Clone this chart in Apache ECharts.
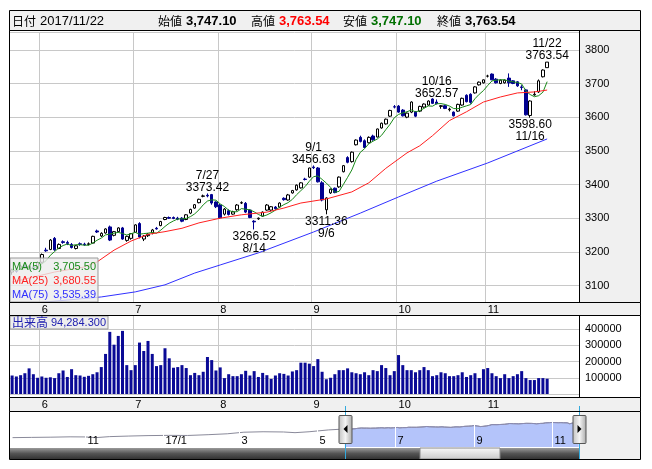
<!DOCTYPE html>
<html><head><meta charset="utf-8">
<script src="https://cdn.jsdelivr.net/npm/echarts@6/dist/echarts.min.js"></script>
<style>html,body{margin:0;padding:0;background:#fff}#c{width:652px;height:469px}</style>
</head><body><div id="c"></div>
<script>
const dates = [
'2017-05-23','2017-05-24','2017-05-25','2017-05-26','2017-05-29','2017-05-30','2017-05-31',
'2017-06-01','2017-06-02','2017-06-05','2017-06-06','2017-06-07','2017-06-08','2017-06-09','2017-06-12','2017-06-13','2017-06-14','2017-06-15','2017-06-16','2017-06-19','2017-06-20','2017-06-21','2017-06-22','2017-06-23','2017-06-26','2017-06-27','2017-06-28','2017-06-29','2017-06-30',
'2017-07-03','2017-07-04','2017-07-05','2017-07-06','2017-07-07','2017-07-10','2017-07-11','2017-07-12','2017-07-13','2017-07-14','2017-07-18','2017-07-19','2017-07-20','2017-07-21','2017-07-24','2017-07-25','2017-07-26','2017-07-27','2017-07-28','2017-07-31',
'2017-08-01','2017-08-02','2017-08-03','2017-08-04','2017-08-07','2017-08-08','2017-08-09','2017-08-10','2017-08-14','2017-08-15','2017-08-16','2017-08-17','2017-08-18','2017-08-21','2017-08-22','2017-08-23','2017-08-24','2017-08-25','2017-08-28','2017-08-29','2017-08-30','2017-08-31',
'2017-09-01','2017-09-04','2017-09-05','2017-09-06','2017-09-07','2017-09-08','2017-09-11','2017-09-12','2017-09-13','2017-09-14','2017-09-15','2017-09-19','2017-09-20','2017-09-21','2017-09-22','2017-09-25','2017-09-26','2017-09-27','2017-09-28','2017-09-29',
'2017-10-02','2017-10-03','2017-10-04','2017-10-05','2017-10-06','2017-10-10','2017-10-11','2017-10-12','2017-10-13','2017-10-16','2017-10-17','2017-10-18','2017-10-19','2017-10-20','2017-10-23','2017-10-24','2017-10-25','2017-10-26','2017-10-27','2017-10-30','2017-10-31',
'2017-11-01','2017-11-02','2017-11-06','2017-11-07','2017-11-08','2017-11-09','2017-11-10','2017-11-13','2017-11-14','2017-11-15','2017-11-16','2017-11-17','2017-11-20','2017-11-21','2017-11-22'];

const openP = [3140,3146,3150,3158,3153,3155,3150,
3169,3205,3207,3240,3210,3230,3228,3222,3210,3224,3223,3222,3226,3262,3247,3256,3274,3249,3260,3271,3234,3240,
3258,3284,3238,3248,3256,3270,3278,3296,3302,3302,3300,3300,3296,3315,3330,3346,3365,3368,3370,3348,
3339,3312,3322,3312,3325,3345,3344,3324,3291,3298,3306,3324,3324,3333,3333,3359,3354,3375,3384,3390,3416,3422,
3452,3449,3405,3325,3375,3389,3393,3438,3480,3468,3518,3540,3530,3524,3544,3541,3568,3580,3603,3631,
3633,3621,3600,3615,3615,3618,3630,3636,3654,3645,3632,3634,3622,3615,3618,3636,3665,3668,3672,3696,3702,
3722,3728,3713,3700,3702,3716,3708,3705,3690,3681,3605,3666,3675,3720,3747.10];
const highP = [3150,3152,3162,3163,3160,3158,3172,
3195,3212,3238,3244,3225,3234,3233,3226,3220,3228,3227,3228,3248,3266,3258,3270,3278,3262,3273,3274,3248,3256,
3282,3288,3250,3256,3268,3274,3292,3304,3305,3305,3304,3303,3312,3328,3342,3358,3370,3373.42,3372,3350,
3342,3330,3326,3322,3342,3350,3348,3326,3294,3302,3320,3342,3336,3336,3347,3362,3372,3384,3400,3407,3420,3450,
3456.63,3452,3410,3362,3388,3391,3424,3458,3484,3498,3534,3545,3534,3543,3548,3566,3584,3596,3622,3636,
3636,3624,3614,3647,3618,3634,3641,3650,3656,3652.57,3636,3636,3628,3617,3640,3658,3668,3671,3692,3706,3712,
3726,3730,3716,3712,3712,3730,3710,3707,3695,3684,3650,3677,3712,3742,3763.54];
const lowP = [3132,3138,3148,3150,3148,3145,3148,
3165,3200,3205,3203,3208,3224,3220,3210,3207,3218,3218,3219,3225,3256,3244,3254,3232,3246,3258,3236,3230,3236,
3256,3240,3232,3244,3252,3266,3276,3294,3298,3297,3294,3288,3294,3312,3328,3344,3362,3362,3340,3330,
3298,3308,3308,3310,3322,3342,3315,3300,3266.52,3295,3304,3322,3320,3325,3331,3352,3352,3373,3382,3388,3412,3420,
3446,3406,3350,3311.36,3372,3374,3390,3436,3463,3465,3516,3525,3508,3522,3530,3540,3566,3578,3601,3626,
3613,3602,3597,3612,3600,3615,3628,3634,3639,3638,3625,3624,3617,3602,3616,3634,3644,3640,3670,3694,3700,
3718,3710,3700,3698,3700,3690,3698,3690,3680,3605,3598.60,3664,3672,3718,3747.10];
const closeP = [3146,3142,3158,3153,3156,3150,3168,
3192,3203,3235,3206,3222,3228,3225,3213,3218,3222,3221,3224,3246,3259,3255,3268,3235,3260,3271,3238,3246,3254,
3280,3244,3247,3252,3265,3268,3290,3302,3300,3299,3297,3291,3310,3326,3340,3356,3366,3366,3345,3334,
3301,3327,3311,3319,3339,3346,3318,3302,3289,3300,3318,3339,3334,3328,3345,3355,3369,3382,3398,3405,3415,3449,
3450,3408,3354,3360,3386,3376,3422,3456,3466,3496,3532,3528,3510,3540,3533,3565,3582,3594,3620,3630,
3615,3604,3612,3645,3603,3632,3639,3648,3641,3640,3634,3626,3624,3604,3638,3656,3646,3644,3690,3704,3711,
3722,3711,3702,3710,3710,3702,3700,3693,3688,3607,3648,3668,3708,3740,3763.54];
const volume = [114000,108000,116000,128000,158000,122000,100000,
108000,100000,103000,98000,128000,145000,105000,153000,116000,114000,106000,112000,122000,134000,166000,247000,383000,304000,358000,389000,178000,147000,
178000,317000,265000,327000,247000,172000,178000,282000,220000,162000,166000,178000,160000,116000,130000,116000,137000,228000,209000,145000,
164000,98000,122000,110000,110000,122000,143000,114000,141000,105000,130000,116000,93000,114000,128000,124000,114000,139000,147000,193000,193000,187000,
172000,215000,137000,91000,100000,122000,147000,147000,158000,134000,128000,122000,134000,116000,147000,141000,178000,160000,116000,141000,
240000,178000,147000,147000,134000,147000,166000,147000,110000,116000,134000,128000,110000,110000,116000,134000,105000,116000,128000,98000,153000,
160000,128000,110000,98000,122000,98000,110000,122000,141000,98000,86000,86000,98000,98000,94284.3];

const ma25Dates = ['2017-05-23','2017-06-06','2017-06-15','2017-06-20','2017-06-26','2017-06-30','2017-07-06','2017-07-12','2017-07-19','2017-07-25','2017-08-01','2017-08-08','2017-08-17','2017-08-23','2017-08-29','2017-09-06','2017-09-14','2017-09-21','2017-09-27','2017-10-04','2017-10-10','2017-10-13','2017-10-19','2017-10-25','2017-10-31','2017-11-07','2017-11-13','2017-11-17','2017-11-22'];
const ma25Vals = [3110,3140,3155,3170,3205,3232,3252,3260,3270,3286,3300,3310,3318,3330,3345,3357,3378,3405,3448,3494,3515,3545,3590,3616,3645,3660,3672,3675,3680.55];
const ma75Dates = ['2017-05-23','2017-06-21','2017-07-03','2017-07-12','2017-07-24','2017-08-01','2017-08-15','2017-09-01','2017-09-19','2017-10-02','2017-10-16','2017-11-01','2017-11-22'];
const ma75Vals = [3042,3066,3081,3102,3137,3161,3197,3259,3315,3363,3410,3464,3535.39];
const maLegend = [['MA(5)',3705.50,'#1a8a1a'],['MA(25)',3680.55,'#ff2020'],['MA(75)',3535.39,'#3030ff']];

const navDates = ['2016-09-05','2016-09-20','2016-10-05','2016-10-20','2016-11-01','2016-11-09','2016-11-20','2016-12-05','2016-12-20','2017-01-05','2017-01-20','2017-02-05','2017-02-20','2017-03-05','2017-03-20','2017-04-05','2017-04-14','2017-04-25','2017-05-10','2017-05-22'];
const navVals = [2380,2400,2420,2450,2440,2380,2470,2520,2560,2580,2570,2640,2720,2860,2900,2880,2820,2900,3060,3140];

const annot = [['2017-07-27','high'],['2017-08-14','low'],['2017-09-01','high'],['2017-09-06','low'],['2017-10-16','high'],['2017-11-16','low'],['2017-11-22','high']];

const FONT = "'Liberation Sans',Arial,sans-serif";
const FONTJ = "'Noto Sans CJK JP',sans-serif";
const N = dates.length;
const cats = dates.concat(['p1','p2','p3','p4','p5','p6','p7']);
const isMonthStart = i => i > 0 && i < N && dates[i].slice(5,7) !== dates[i-1].slice(5,7);
const md = d => (+d.slice(5,7)) + '/' + (+d.slice(8,10));
const fmt = v => v.toLocaleString('en-US',{minimumFractionDigits:2,maximumFractionDigits:2});

const candle = dates.map((d,i)=>[openP[i], closeP[i], lowP[i], highP[i]]);
const ma5 = closeP.map((c,i)=>{ const s = closeP.slice(Math.max(0,i-4), i+1); return s.reduce((a,b)=>a+b,0)/s.length; });
const fromSamples = (ds, vs) => dates.map(d => { const k = ds.indexOf(d); return k >= 0 ? vs[k] : null; });
const ma25 = fromSamples(ma25Dates, ma25Vals);
const ma75 = fromSamples(ma75Dates, ma75Vals);

const markData = annot.map(([d,kind]) => {
  const i = dates.indexOf(d);
  const v = kind === 'high' ? highP[i] : lowP[i];
  return {coord:[d, v], value:v, label:{position: kind==='high'?'top':'bottom', distance: kind==='high'?0:1,
    formatter: kind==='high' ? md(d)+'\n'+v.toFixed(2) : v.toFixed(2)+'\n'+md(d)}};
});

const navAll = navDates.map((d,i)=>[d, navVals[i]]).concat(dates.map((d,i)=>[d, closeP[i]]));
const navSel = dates.map((d,i)=>[d, closeP[i]]);

const chart = echarts.init(document.getElementById('c'));
const gridLine = '#c8c8c8';
const lab = {color:'#000', fontSize:11, fontFamily:FONT};

chart.setOption({
  animation:false,
  backgroundColor:'#fff',
  grid:[
    {left:10, top:32, width:569, height:270},
    {left:10, top:315, width:569, height:79},
    {left:10, top:412, width:570, height:35}
  ],
  xAxis:[
    {type:'category', gridIndex:0, data:cats, boundaryGap:true, axisLine:{show:false}, axisTick:{show:false},
     axisLabel:Object.assign({interval:(i)=>isMonthStart(i), formatter:v=>String(+v.slice(5,7)), align:'left', margin:2}, lab),
     splitLine:{show:true, interval:(i)=>isMonthStart(i), lineStyle:{color:gridLine}}},
    {type:'category', gridIndex:1, data:cats, boundaryGap:true, axisLine:{show:false}, axisTick:{show:false},
     axisLabel:Object.assign({interval:(i)=>isMonthStart(i), formatter:v=>String(+v.slice(5,7)), align:'left', margin:5}, lab),
     splitLine:{show:true, interval:(i)=>isMonthStart(i), lineStyle:{color:gridLine}}},
    {type:'time', gridIndex:2, min:'2016-09-03', max:'2017-11-23', show:false}
  ],
  yAxis:[
    {type:'value', gridIndex:0, position:'right', min:3051, max:3853, splitNumber:8, axisLine:{show:false}, axisTick:{show:false},
     axisLabel:Object.assign({showMinLabel:false, showMaxLabel:false, margin:6, formatter:v=>String(v)}, lab), splitLine:{lineStyle:{color:gridLine}}},
    {type:'value', gridIndex:1, position:'right', min:0, max:487000, splitNumber:5, axisLine:{show:false}, axisTick:{show:false},
     axisLabel:Object.assign({showMinLabel:false, showMaxLabel:false, margin:6, formatter:v=>String(v)}, lab), splitLine:{lineStyle:{color:gridLine}}},
    {type:'value', gridIndex:2, min:1550, max:4650, show:false}
  ],
  series:[
    {type:'candlestick', xAxisIndex:0, yAxisIndex:0, data:candle, barWidth:3,
     itemStyle:{color:'#fff', color0:'#000090', borderColor:'#000', borderColor0:'#000090', borderWidth:1},
     markPoint:{symbol:'circle', symbolSize:0, silent:true, animation:false,
       label:{show:true, color:'#000', fontSize:12, fontFamily:FONT, lineHeight:12}, data:markData}},
    {type:'line', xAxisIndex:0, yAxisIndex:0, data:ma5, symbol:'none', lineStyle:{color:'#1a8a1a', width:1}},
    {type:'line', xAxisIndex:0, yAxisIndex:0, data:ma25, symbol:'none', connectNulls:true, lineStyle:{color:'#ff2020', width:1}},
    {type:'line', xAxisIndex:0, yAxisIndex:0, data:ma75, symbol:'none', connectNulls:true, lineStyle:{color:'#3030ff', width:1}},
    {type:'bar', xAxisIndex:1, yAxisIndex:1, data:volume, barWidth:3, itemStyle:{color:'#0a0a96'}},
    {type:'line', xAxisIndex:2, yAxisIndex:2, data:navAll, symbol:'none', lineStyle:{color:'#8a8a9a', width:1}},
    {type:'line', xAxisIndex:2, yAxisIndex:2, data:navSel, symbol:'none', lineStyle:{color:'#8a8ab0', width:1},
     areaStyle:{color:'#b4c4fa', opacity:1}}
  ]
});

const px = (d) => chart.convertToPixel({xAxisIndex:2}, +echarts.time.parse(d));
const selL = px(dates[0]), selR = px(dates[N-1]);
const g = [];
g.push({type:'rect', z:-10, shape:{x:579, y:31, width:62, height:271}, style:{fill:'#f0f0f0'}});
g.push({type:'rect', z:-10, shape:{x:9, y:302, width:632, height:13}, style:{fill:'#f0f0f0'}});
g.push({type:'rect', z:-10, shape:{x:9, y:397, width:632, height:14}, style:{fill:'#f0f0f0'}});
g.push({type:'rect', z:-10, shape:{x:580, y:411, width:61, height:49}, style:{fill:'#f0f0f0'}});
g.push({type:'rect', z:50, shape:{x:9.5, y:10.5, width:631, height:20}, style:{fill:'#f0f0f0', stroke:'#000', lineWidth:1}});
const last = N-1;
const hdr = [
  [12, '日付', '#000', 'normal', FONTJ, 12], [40, dates[last].replace(/-/g,'/'), '#000', 'normal', FONT, 13],
  [158, '始値', '#000', 'normal', FONTJ, 12], [186, fmt(openP[last]), '#000', 'bold', FONT, 13],
  [251, '高値', '#000', 'normal', FONTJ, 12], [279, fmt(highP[last]), '#f00', 'bold', FONT, 13],
  [343, '安値', '#000', 'normal', FONTJ, 12], [371, fmt(lowP[last]), '#007000', 'bold', FONT, 13],
  [437, '終値', '#000', 'normal', FONTJ, 12], [465, fmt(closeP[last]), '#000', 'bold', FONT, 13]
];
hdr.forEach(([x,t,c,w,f,s]) => g.push({type:'text', z:60, x:x, y:21, style:{text:t, fill:c, font:w+' '+s+'px '+f, textVerticalAlign:'middle'}}));
const frame = (x,y,w,h) => g.push({type:'rect', z:55, shape:{x:x, y:y, width:w, height:h}, style:{fill:null, stroke:'#000', lineWidth:1}});
frame(9.5, 30.5, 631, 272);
frame(9.5, 302.5, 631, 13);
frame(9.5, 315.5, 631, 82);
frame(9.5, 397.5, 631, 14);
frame(9.5, 411.5, 631, 48);
g.push({type:'line', z:55, shape:{x1:579.5, y1:31, x2:579.5, y2:302}, style:{stroke:'#000'}});
g.push({type:'line', z:55, shape:{x1:579.5, y1:316, x2:579.5, y2:397}, style:{stroke:'#000'}});
g.push({type:'rect', z:40, shape:{x:10, y:258, width:88, height:44}, style:{fill:'rgba(236,236,236,0.8)', stroke:'#999', lineWidth:1}});
maLegend.forEach(([name,val,col],k) => {
  g.push({type:'text', z:41, x:12, y:267+k*14, style:{text:name, fill:col, font:'11px '+FONT, textVerticalAlign:'middle'}});
  g.push({type:'text', z:41, x:96, y:267+k*14, style:{text:fmt(val), fill:col, font:'11px '+FONT, textVerticalAlign:'middle', textAlign:'right'}});
});
g.push({type:'rect', z:40, shape:{x:10, y:316, width:98, height:13}, style:{fill:'rgba(236,236,236,0.9)', stroke:'#999', lineWidth:1}});
g.push({type:'text', z:41, x:12, y:322.5, style:{text:'出来高', fill:'#2020b0', font:'12px '+FONTJ, textVerticalAlign:'middle'}});
g.push({type:'text', z:41, x:106, y:322.5, style:{text:volume[last].toLocaleString('en-US',{minimumFractionDigits:3,maximumFractionDigits:3}), fill:'#2020b0', font:'11px '+FONT, textVerticalAlign:'middle', textAlign:'right'}});
const navMarks = [['2016-11-01','11'],['2017-01-01','17/1'],['2017-03-01','3'],['2017-05-01','5'],['2017-07-01','7'],['2017-09-01','9'],['2017-11-01','11']];
navMarks.forEach(([d,t]) => {
  const x = Math.round(px(d)) + 0.5;
  g.push({type:'line', z:30, shape:{x1:x, y1:412, x2:x, y2:447}, style:{stroke:'#fff', lineWidth:1}});
  g.push({type:'text', z:31, x:x+2, y:441, style:{text:t, fill:'#000', font:'11px '+FONT, textVerticalAlign:'middle'}});
});
g.push({type:'rect', z:30, shape:{x:10, y:448, width:570, height:11}, style:{fill:new echarts.graphic.LinearGradient(0,0,0,1,[{offset:0,color:'#9a9a9a'},{offset:0.5,color:'#555'},{offset:1,color:'#333'}])}});
g.push({type:'rect', z:31, shape:{x:420, y:448, width:80, height:11}, style:{fill:new echarts.graphic.LinearGradient(0,0,0,1,[{offset:0,color:'#fafafa'},{offset:1,color:'#c8c8c8'}]), stroke:'#888'}});
[selL, selR].forEach((x,k) => {
  const xx = Math.round(x)+0.5;
  g.push({type:'line', z:32, shape:{x1:xx, y1:406, x2:xx, y2:460}, style:{stroke:'#33aadd', lineWidth:1}});
  g.push({type:'rect', z:33, shape:{x:xx-6.5, y:415.5, width:13, height:28, r:1}, style:{fill:new echarts.graphic.LinearGradient(1,0,0,0,[{offset:0,color:'#a8a8a8'},{offset:0.5,color:'#f4f4f4'},{offset:1,color:'#c0c0c0'}]), stroke:'#555', lineWidth:1}});
  const ax = xx;
  const pts = k===0 ? [[ax+2,425],[ax+2,433],[ax-2,429]] : [[ax-2,425],[ax-2,433],[ax+2,429]];
  g.push({type:'polygon', z:34, shape:{points:pts}, style:{fill:'#000'}});
});
chart.setOption({graphic:g});
</script>
</body></html>
